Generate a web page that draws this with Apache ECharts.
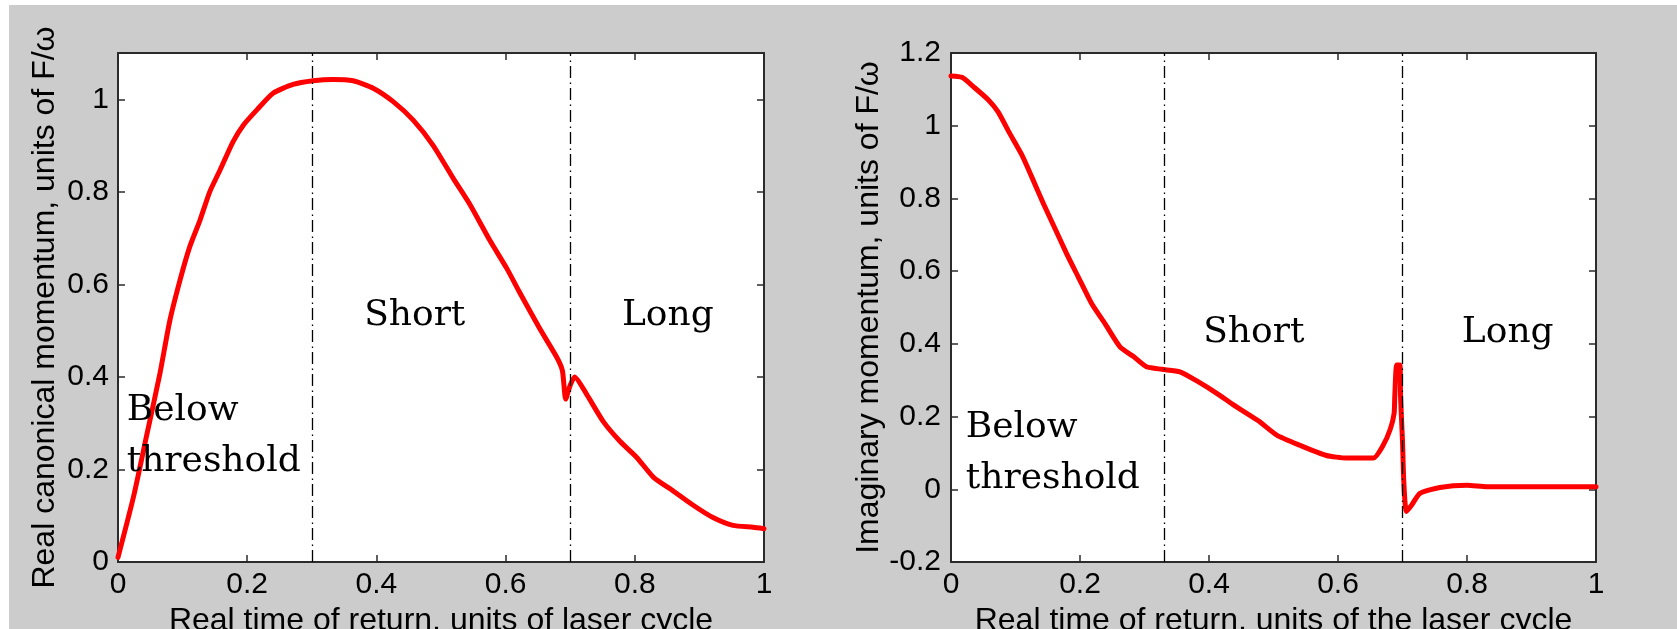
<!DOCTYPE html>
<html>
<head>
<meta charset="utf-8">
<script src="https://cdn.jsdelivr.net/npm/echarts@6/dist/echarts.min.js"></script>
<style>
  html, body { margin: 0; padding: 0; background: #ffffff; }
  #frame { position: absolute; left: 9px; top: 5px; right: 0; bottom: 0; background: #cccccc; }
  #chart { position: absolute; left: 0; top: 0; width: 1677px; height: 629px; }
</style>
</head>
<body>
<div id="frame"></div>
<div id="chart"></div>
<script>
// Real part of the canonical momentum vs real return time
const realReturnTime = [0, 0.024, 0.044, 0.065, 0.08, 0.096, 0.111, 0.127, 0.142, 0.158, 0.178, 0.194, 0.215, 0.24, 0.271, 0.302, 0.333, 0.364, 0.395, 0.426, 0.457, 0.488, 0.519, 0.545, 0.576, 0.602, 0.622, 0.653, 0.679, 0.688, 0.693, 0.7, 0.707, 0.726, 0.751, 0.777, 0.803, 0.829, 0.86, 0.891, 0.921, 0.952, 0.983, 1.0];
const realMomentum   = [0.01, 0.141, 0.271, 0.408, 0.52, 0.609, 0.681, 0.739, 0.8, 0.847, 0.908, 0.944, 0.977, 1.013, 1.032, 1.04, 1.043, 1.04, 1.024, 0.995, 0.955, 0.9, 0.829, 0.772, 0.694, 0.634, 0.582, 0.504, 0.443, 0.413, 0.352, 0.382, 0.4, 0.361, 0.304, 0.261, 0.226, 0.183, 0.153, 0.122, 0.096, 0.079, 0.075, 0.072];

// Imaginary momentum vs real return time
const imagReturnTime = [0, 0.017, 0.035, 0.058, 0.073, 0.091, 0.11, 0.125, 0.143, 0.161, 0.179, 0.197, 0.218, 0.239, 0.262, 0.283, 0.303, 0.327, 0.355, 0.383, 0.412, 0.438, 0.476, 0.505, 0.541, 0.582, 0.613, 0.655, 0.67, 0.681, 0.687, 0.688, 0.691, 0.696, 0.697, 0.7, 0.702, 0.706, 0.714, 0.727, 0.758, 0.8, 0.831, 1.0];
const imagMomentum   = [1.137, 1.133, 1.107, 1.071, 1.038, 0.979, 0.919, 0.86, 0.787, 0.718, 0.649, 0.585, 0.511, 0.455, 0.392, 0.365, 0.337, 0.33, 0.323, 0.296, 0.264, 0.232, 0.189, 0.149, 0.121, 0.093, 0.086, 0.086, 0.121, 0.165, 0.209, 0.254, 0.342, 0.342, 0.254, 0.133, 0.022, -0.061, -0.044, -0.011, 0.005, 0.011, 0.007, 0.007];

// Region boundaries (return time)
const realBoundaries = [0.3, 0.705];
const imagBoundaries = [0.325, 0.7];

// Tick labels
const timeTicks     = ['0', '0.2', '0.4', '0.6', '0.8', '1'];
const realTicks     = ['0', '0.2', '0.4', '0.6', '0.8', '1'];
const imagTicks     = ['-0.2', '0', '0.2', '0.4', '0.6', '0.8', '1', '1.2'];

// Region labels, anchored at the left end of the first baseline (data coordinates)
const realRegionLabels = [
  { text: 'Below\nthreshold', t: 0.0135, v: 0.303 },
  { text: 'Short', t: 0.381, v: 0.508 },
  { text: 'Long', t: 0.78, v: 0.508 }
];
const imagRegionLabels = [
  { text: 'Below\nthreshold', t: 0.023, v: 0.14 },
  { text: 'Short', t: 0.391, v: 0.402 },
  { text: 'Long', t: 0.792, v: 0.402 }
];

const pairs = (xs, ys) => xs.map((x, i) => [x, ys[i]]);
const tickFormatter = (labels, min, step) => (v) => {
  const k = Math.round((v - min) / step);
  return Math.abs(min + k * step - v) < 1e-6 && labels[k] !== undefined ? labels[k] : '';
};

const FRAME = '#2b2b2b';
const SANS = '"Liberation Sans", Arial, sans-serif';

function boxAxis(gridIndex, position, opts) {
  const base = {
    type: 'value',
    gridIndex: gridIndex,
    position: position,
    min: opts.min,
    max: opts.max,
    interval: opts.interval,
    axisLine: { show: true, onZero: false, lineStyle: { color: FRAME, width: 2 } },
    axisTick: { show: true, inside: true, length: 7, lineStyle: { color: FRAME, width: 1.5 } },
    splitLine: { show: false },
    axisLabel: { show: false },
    silent: true
  };
  if (opts.labels) {
    base.axisLabel = {
      show: true,
      fontFamily: SANS,
      fontSize: 30,
      color: '#000',
      margin: opts.margin,
      showMaxLabel: true,
      formatter: tickFormatter(opts.labels, opts.min, opts.interval)
    };
  }
  if (opts.name) {
    base.name = opts.name;
    base.nameLocation = 'middle';
    base.nameGap = opts.nameGap;
    base.nameTextStyle = { fontFamily: SANS, fontSize: 32, color: '#000' };
  }
  return base;
}

const dashDot = [12, 4, 1.5, 4.5];

function curve(xIdx, yIdx, data, bounds) {
  return {
    type: 'line',
    xAxisIndex: xIdx,
    yAxisIndex: yIdx,
    data: data,
    showSymbol: false,
    symbol: 'none',
    smooth: 0.2,
    clip: true,
    lineStyle: { color: '#ff0000', width: 5, join: 'round', cap: 'round' },
    itemStyle: { color: '#ff0000' },
    markLine: {
      silent: true,
      symbol: ['none', 'none'],
      label: { show: false },
      lineStyle: { color: '#000', width: 1.3, type: dashDot },
      data: bounds.map(b => ({ xAxis: b }))
    },
    z: 3
  };
}

const chart = echarts.init(document.getElementById('chart'), null, { renderer: 'canvas' });

const gridBase = { top: 53, height: 509, show: true, backgroundColor: '#ffffff', borderWidth: 0,
  containLabel: false, outerBoundsMode: 'none' };

const option = {
  animation: false,
  backgroundColor: 'transparent',
  grid: [
    Object.assign({ left: 118, width: 646 }, gridBase),
    Object.assign({ left: 951, width: 645 }, gridBase)
  ],
  xAxis: [
    boxAxis(0, 'bottom', { min: 0, max: 1, interval: 0.2, labels: timeTicks, margin: 8,
      name: 'Real time of return, units of laser cycle', nameGap: 35 }),
    boxAxis(0, 'top', { min: 0, max: 1, interval: 0.2 }),
    boxAxis(1, 'bottom', { min: 0, max: 1, interval: 0.2, labels: timeTicks, margin: 8,
      name: 'Real time of return, units of the laser cycle', nameGap: 35 }),
    boxAxis(1, 'top', { min: 0, max: 1, interval: 0.2 })
  ],
  yAxis: [
    boxAxis(0, 'left', { min: 0, max: 1.1, interval: 0.2, labels: realTicks, margin: 9,
      name: 'Real canonical momentum, units of F/\u03c9', nameGap: 57 }),
    boxAxis(0, 'right', { min: 0, max: 1.1, interval: 0.2 }),
    boxAxis(1, 'left', { min: -0.2, max: 1.2, interval: 0.2, labels: imagTicks, margin: 10,
      name: 'Imaginary momentum, units of F/\u03c9', nameGap: 62 }),
    boxAxis(1, 'right', { min: -0.2, max: 1.2, interval: 0.2 })
  ],
  series: [
    curve(0, 0, pairs(realReturnTime, realMomentum), realBoundaries),
    curve(2, 2, pairs(imagReturnTime, imagMomentum), imagBoundaries)
  ]
};

chart.setOption(option);

// Region labels in a serif face, placed through the axes' own scales
const FS = 36, LH = 51;
function regionText(labels, xIdx, yIdx) {
  return labels.map(l => {
    const p = chart.convertToPixel({ xAxisIndex: xIdx, yAxisIndex: yIdx }, [l.t, l.v]);
    return {
      type: 'text',
      x: p[0],
      y: p[1] - LH / 2 - 0.3 * FS,
      z: 10,
      silent: true,
      style: {
        text: l.text,
        font: FS + 'px "DejaVu Serif", serif',
        fill: '#000',
        lineHeight: LH,
        align: 'left',
        verticalAlign: 'top'
      }
    };
  });
}

chart.setOption({
  graphic: regionText(realRegionLabels, 0, 0).concat(regionText(imagRegionLabels, 2, 2))
});
</script>
</body>
</html>
